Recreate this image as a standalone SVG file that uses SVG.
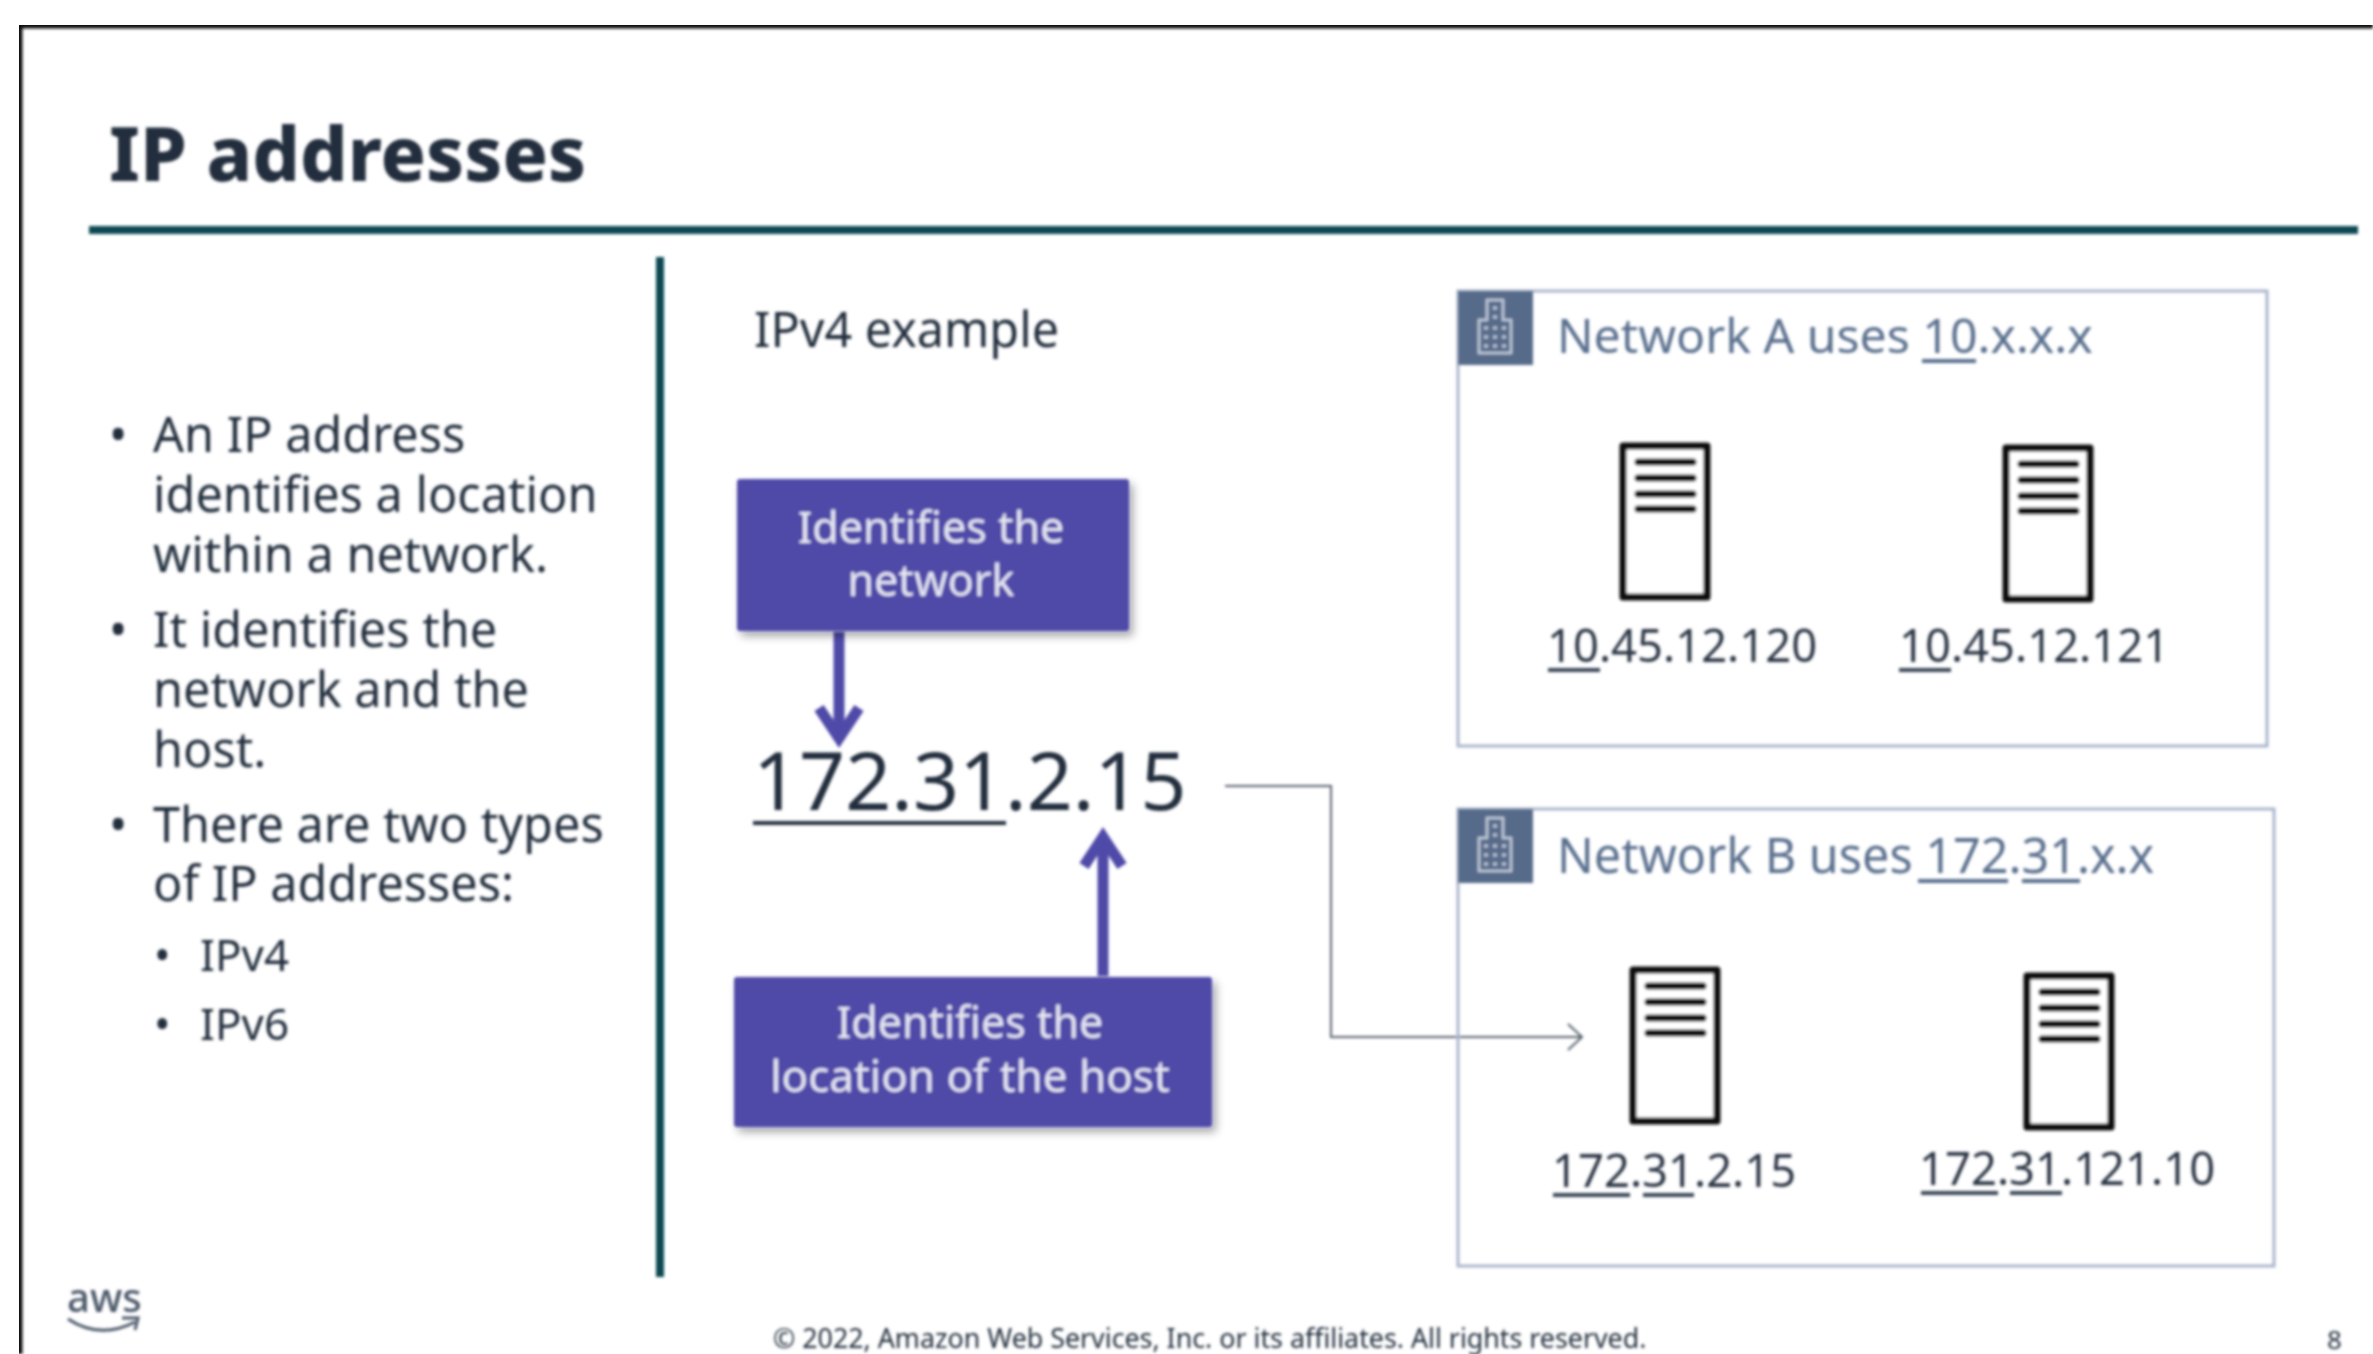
<svg xmlns="http://www.w3.org/2000/svg" width="2373" height="1354" viewBox="0 0 2373 1354">
<defs>
<style>
text{font-family:"Noto Sans","Open Sans","Liberation Sans",sans-serif;fill:#232f3e}
.b{font-size:48.6px}
.s{font-size:44px}
.ip{font-size:45.4px;fill:#2b3644}
.n{font-size:48.2px;fill:#5a6f8e}
.w{font-size:43px;fill:#e6e6f4;text-anchor:middle}
.box{fill:#4f4aa8;filter:url(#sh)}
.net{fill:none;stroke:#a9b5cb;stroke-width:3}
.tag{fill:#566b8a}
.ico{fill:none;stroke:#c3ccdb;stroke-width:2.5}
.srv{fill:#fff;stroke:#111;stroke-width:7;stroke-linejoin:round}
.srl{stroke:#111;stroke-width:7;stroke-linecap:round}
.ul{stroke:#3a4656;stroke-width:4;fill:none}
.ul2{stroke:#5a6f8e;stroke-width:4;fill:none}
.arr{stroke:#4f4aa8;stroke-width:11;fill:none;stroke-linejoin:miter}
</style>
<filter id="sh" x="-5%" y="-5%" width="112%" height="118%"><feDropShadow dx="4" dy="5" stdDeviation="4" flood-color="#000" flood-opacity=".35"/></filter>
<filter id="soft" x="0" y="0" width="100%" height="100%"><feGaussianBlur stdDeviation="1.5"/></filter>
<g id="srv"><rect x="0" y="0" width="84" height="151" class="srv"/><path class="srl" d="M15 16H70M15 32H70M15 48H70M15 63H70"/></g>
<g id="bld"><path class="ico" d="M-8 22V2H8V22H16V55H-16V22Z"/><path d="M-11 30h4M-2 30h4M7 30h4M-11 39h4M-2 39h4M7 39h4M-11 48h4M-2 48h4M7 48h4M-2 10h4M-2 19h4" stroke="#c3ccdb" stroke-width="3"/></g>
</defs>
<rect width="2373" height="1354" fill="#fff"/>
<g filter="url(#soft)">
<g id="frame"><path d="M19 1354V25H2373" fill="none" stroke="#111" stroke-width="7"/></g>
<g id="title"><text x="109" y="181" font-weight="800" style="font-size:75px">IP addresses</text>
<path d="M89 230H2358" stroke="#0b4a52" stroke-width="8"/><path d="M660 257V1277" stroke="#0b4a52" stroke-width="8"/></g>
<g id="bullets">
<text class="b" x="109" y="452">•</text><text class="b" x="153" y="452">An IP address</text><text class="b" x="153" y="512">identifies a location</text><text class="b" x="153" y="572">within a network.</text>
<text class="b" x="109" y="647">•</text><text class="b" x="153" y="647">It identifies the</text><text class="b" x="153" y="707">network and the</text><text class="b" x="153" y="767">host.</text>
<text class="b" x="109" y="842">•</text><text class="b" x="153" y="842">There are two types</text><text class="b" x="153" y="901">of IP addresses:</text>
<text class="s" x="154" y="971">•</text><text class="s" x="200" y="971">IPv4</text>
<text class="s" x="154" y="1040">•</text><text class="s" x="200" y="1040">IPv6</text>
</g>
<text x="754" y="347" style="font-size:48.5px">IPv4 example</text>
<g id="connectors">
<path class="arr" d="M839 632V740"/><path class="arr" d="M819 708L839 738L859 708"/>
<path class="arr" d="M1103 976V838"/><path class="arr" d="M1084 866L1103 837L1122 866"/>
<path d="M1225 786H1331V1037H1582" fill="none" stroke="#56606c" stroke-width="2"/><path d="M1568 1024L1582 1037L1568 1050" fill="none" stroke="#56606c" stroke-width="2"/>
</g>
<g id="box-network"><rect class="box" x="737" y="479" width="392" height="152" rx="3"/><text class="w" x="931" y="543">Identifies the</text><text class="w" x="931" y="596">network</text></g>
<g id="box-host"><rect class="box" x="734" y="977" width="478" height="150" rx="3"/><text class="w" x="970" y="1038">Identifies the</text><text class="w" x="970" y="1092" style="font-size:44px">location of the host</text></g>
<g id="ip"><text x="753" y="810" style="font-size:80.6px">172.31.2.15</text><path d="M753 823H1006" stroke="#232f3e" stroke-width="4"/></g>
<g id="network-a"><rect class="net" x="1458" y="291" width="809" height="455"/><rect class="tag" x="1458" y="291" width="75" height="74"/><use href="#bld" x="1495" y="298"/>
<text class="n" x="1557" y="353">Network A uses 10.x.x.x</text><path class="ul2" d="M1922 361H1976"/>
<use href="#srv" x="1623" y="446"/><use href="#srv" x="2006" y="448"/>
<text class="ip" x="1547" y="662">10.45.12.120</text><path class="ul" d="M1548 670H1600"/>
<text class="ip" x="1899" y="662">10.45.12.121</text><path class="ul" d="M1899 670H1951"/></g>
<g id="network-b"><rect class="net" x="1458" y="809" width="816" height="457"/><rect class="tag" x="1458" y="809" width="75" height="74"/><use href="#bld" x="1495" y="816"/>
<text class="n" x="1557" y="873" style="font-size:48.5px">Network B uses 172.31.x.x</text><path class="ul2" d="M1918 881H2008M2022 881H2080"/>
<use href="#srv" x="1633" y="970"/><use href="#srv" x="2027" y="976"/>
<text class="ip" x="1552" y="1187">172.31.2.15</text><path class="ul" d="M1553 1195H1630M1643 1195H1694"/>
<text class="ip" x="1919" y="1185">172.31.121.10</text><path class="ul" d="M1921 1193H1998M2010 1193H2062"/></g>
<g id="footer"><text x="773" y="1348" style="font-size:26.8px">© 2022, Amazon Web Services, Inc. or its affiliates. All rights reserved.</text><text x="2327" y="1349" style="font-size:26px">8</text>
<text x="67" y="1312" style="font-size:40px;font-weight:500;fill:#4a5668">aws</text><path d="M68 1319Q100 1340 135 1322M122 1318L138 1318L135 1330" fill="none" stroke="#4a5668" stroke-width="3"/></g>
</g>
</svg>
